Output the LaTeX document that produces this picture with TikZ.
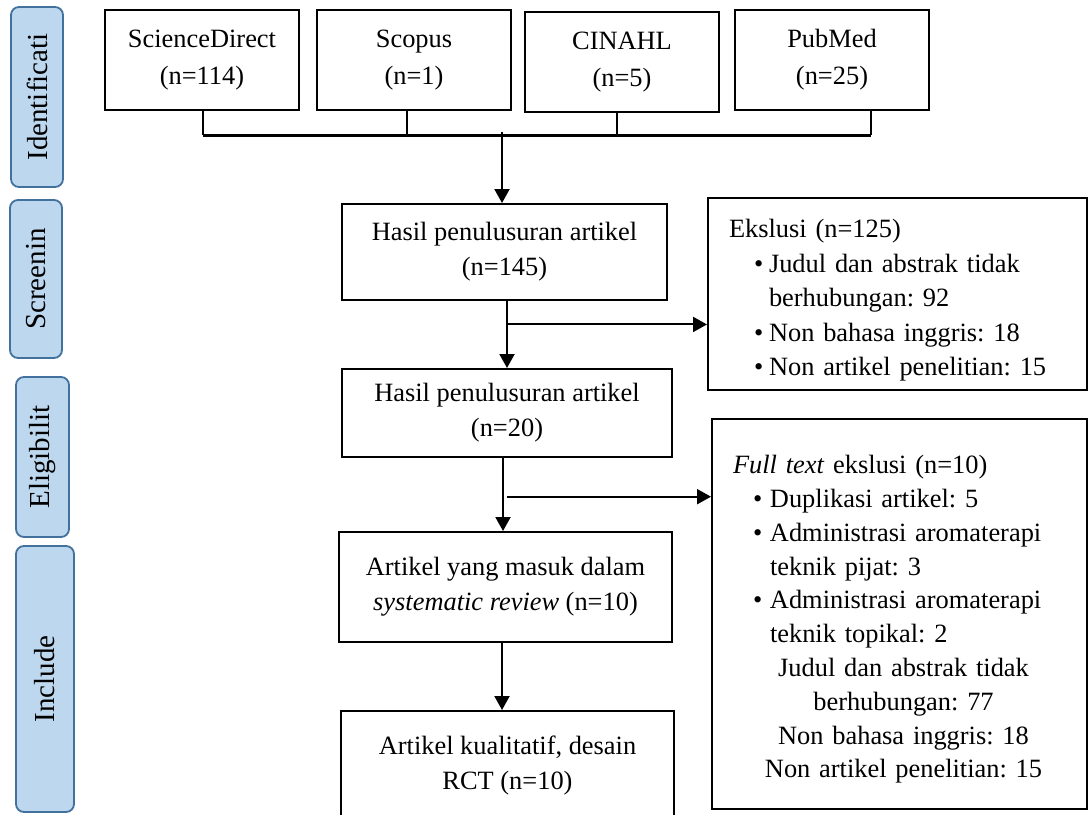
\documentclass[tikz,border=0pt]{standalone}
\usepackage{fontspec}
\setmainfont{Liberation Serif}
\usepackage{tikz}
\usetikzlibrary{arrows.meta,calc}
\definecolor{stagefill}{HTML}{BDD7EE}
\definecolor{stageline}{HTML}{41719C}
\frenchspacing
\tikzset{
  stage/.style={draw=stageline,fill=stagefill,line width=0.9pt,rounded corners=4pt,rotate=90,inner sep=0pt,font=\fontsize{14.5}{16}\selectfont},
  srcbox/.style={draw,line width=1pt,align=center,inner sep=0pt,minimum width=97pt,minimum height=50pt,font=\fontsize{13.2}{18.5}\selectfont},
  flowbox/.style={draw,line width=1pt,align=center,inner sep=0pt,font=\fontsize{13.2}{17.5}\selectfont},
  exbox/.style={draw,line width=1pt,align=left,inner xsep=10.5pt,inner ysep=0pt},
  arr/.style={line width=1pt,-{Triangle[length=7pt,width=7.5pt]}},
  link/.style={line width=1pt},
  bus/.style={line width=1.5pt}
}

\begin{document}
\begin{tikzpicture}[x=0.5pt,y=-0.5pt]
\useasboundingbox (0,0) rectangle (1091,814);
\clip (0,0) rectangle (1091,814);

\node[stage,minimum width=90pt,minimum height=26pt] (identif) at (37,97) {Identificati};
\node[stage,minimum width=79pt,minimum height=26pt] (screen) at (36,279) {Screenin};
\node[stage,minimum width=80pt,minimum height=26.5pt] (elig) at (42.5,457) {Eligibilit};
\node[stage,minimum width=133pt,minimum height=29pt] (incl) at (45,679) {Include};

\node[srcbox] (sd) at (202,60) {ScienceDirect\\(n=114)};
\node[srcbox] (sc) at (414,60) {Scopus\\(n=1)};
\node[srcbox] (ci) at (622,62) {CINAHL\\(n=5)};
\node[srcbox] (pm) at (832,60) {PubMed\\(n=25)};

\node[flowbox,minimum width=162.5pt,minimum height=48pt] (h145) at (504.5,252) {Hasil penulusuran artikel\\(n=145)};
\node[flowbox,minimum width=165pt,minimum height=44pt] (h20) at (507,413) {Hasil penulusuran artikel\\(n=20)};
\node[flowbox,minimum width=166.5pt,minimum height=55pt] (rev) at (505.5,587) {Artikel yang masuk dalam\\\textit{systematic review} (n=10)};
\node[flowbox,minimum width=166.5pt,minimum height=54.5pt] (rct) at (507.5,765.5) {Artikel kualitatif, desain\\RCT (n=10)};

\node[exbox,font=\fontsize{13.2}{17.3}\selectfont,text width=168.5pt,minimum height=96pt] (ex1) at (897.5,294) {\rule{0pt}{15.5pt}Ekslusi (n=125)\\
\hspace*{12.5pt}\makebox[7.5pt][l]{\textbullet}Judul dan abstrak tidak\\
\hspace*{20pt}berhubungan: 92\\
\hspace*{12.5pt}\makebox[7.5pt][l]{\textbullet}Non bahasa inggris: 18\\
\hspace*{12.5pt}\makebox[7.5pt][l]{\textbullet}Non artikel penelitian: 15};
\node[exbox,font=\fontsize{13.2}{16.9}\selectfont,text width=166.5pt,minimum height=195pt] (ex2) at (899.5,614) {\rule{0pt}{14.5pt}\textit{Full text} ekslusi (n=10)\\
\hspace*{10pt}\makebox[8.5pt][l]{\textbullet}Duplikasi artikel: 5\\
\hspace*{10pt}\makebox[8.5pt][l]{\textbullet}Administrasi aromaterapi\\
\hspace*{18.5pt}teknik pijat: 3\\
\hspace*{10pt}\makebox[8.5pt][l]{\textbullet}Administrasi aromaterapi\\
\hspace*{18.5pt}teknik topikal: 2\\
\makebox[\linewidth][c]{\hspace*{4pt}Judul dan abstrak tidak}\\
\makebox[\linewidth][c]{\hspace*{4pt}berhubungan: 77}\\
\makebox[\linewidth][c]{\hspace*{4pt}Non bahasa inggris: 18}\\
\makebox[\linewidth][c]{\hspace*{4pt}Non artikel penelitian: 15}};

\coordinate (bus) at (0,135);
\foreach \n/\dx in {sd/1,sc/-7,ci/-5,pm/39}{
  \coordinate (\n-foot) at ($(\n.south)+(\dx,0)$);
  \draw[link] (\n-foot) -- (\n-foot |- bus);
}
\draw[bus] (sd-foot |- bus) -- (pm-foot |- bus);
\draw[arr] ($(h145.north |- bus)+(-2.5,-3)$) -- ($(h145.north)+(-2.5,0)$);

\draw[arr] (h20.north |- h145.south) -- (h20.north);
\coordinate (split1) at ($(h20.north |- h145.south)!0.35!(h20.north)$);
\draw[arr] (split1) -- (split1 -| ex1.west);

\draw[arr] ($(h20.south)+(-4,0)$) -- ($(h20.south |- rev.north)+(-4,0)$);
\coordinate (split2) at ($(h20.south)!0.53!(h20.south |- rev.north)$);
\draw[arr] (split2) -- (split2 -| ex2.west);

\draw[arr] ($(rev.south)+(-3.5,0)$) -- ($(rev.south |- rct.north)+(-3.5,0)$);
\end{tikzpicture}
\end{document}
